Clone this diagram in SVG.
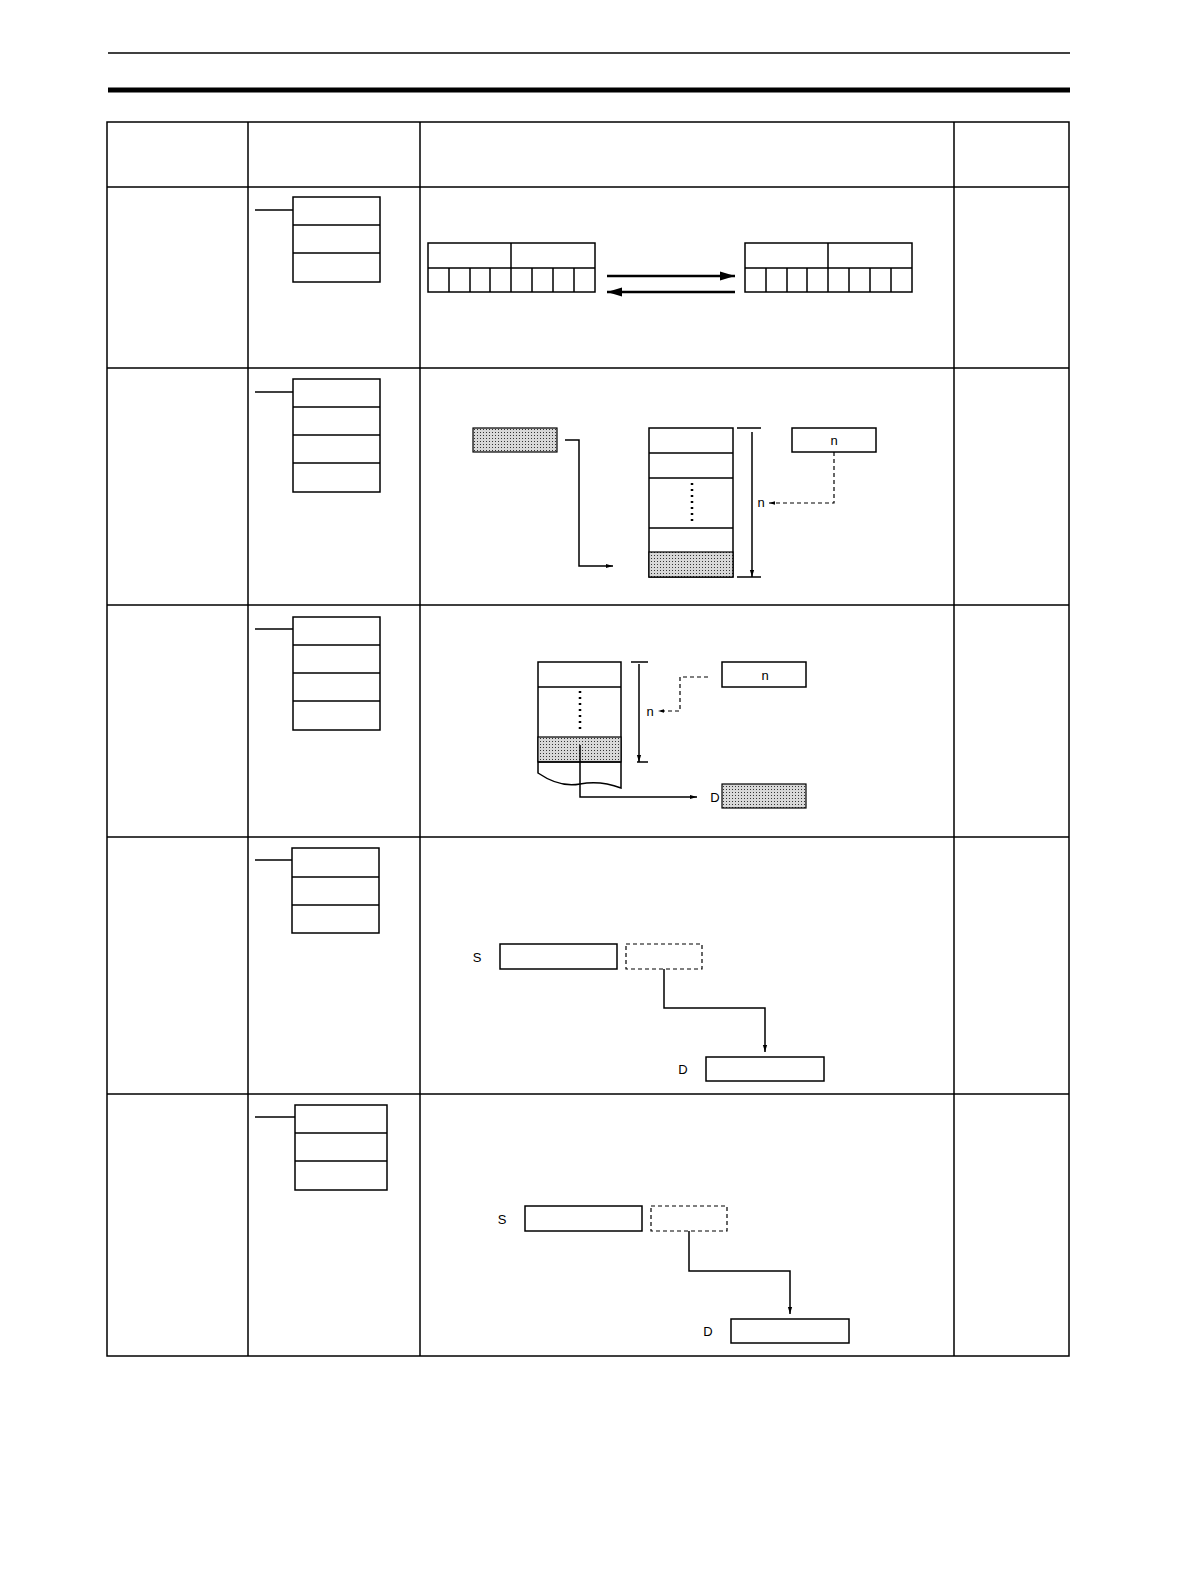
<svg xmlns="http://www.w3.org/2000/svg" width="1190" height="1584" viewBox="0 0 1190 1584">
<defs>
<pattern id="dots" width="3" height="3" patternUnits="userSpaceOnUse"><rect width="3" height="3" fill="#d8d8d8"/><rect width="1" height="1" fill="#333"/></pattern>
<marker id="ah" viewBox="0 0 10 10" refX="10" refY="5" markerWidth="6" markerHeight="6" orient="auto"><path d="M0,2 L10,5 L0,8 z" fill="#000"/></marker>
<marker id="ahb" viewBox="0 0 10 10" refX="10" refY="5" markerWidth="5" markerHeight="5" orient="auto"><path d="M0,2 L10,5 L0,8 z" fill="#000"/></marker>
</defs>
<style>
.l{stroke:#000;stroke-width:1.5;fill:none}
.b{stroke:#000;stroke-width:1.5;fill:#fff}
.s{stroke:#000;stroke-width:1.2;fill:url(#dots)}
.d{stroke:#000;stroke-width:1.2;fill:none;stroke-dasharray:4,3}
.t{font-family:"Liberation Sans",Arial,sans-serif;font-size:13px;fill:#000}
</style>
<rect width="1190" height="1584" fill="#fff"/>
<line x1="108" y1="53" x2="1070" y2="53" stroke="#000" stroke-width="1.5"/>
<line x1="108" y1="90" x2="1070" y2="90" stroke="#000" stroke-width="5"/>
<g id="table">
<rect x="107" y="122" width="962" height="1234" class="l" stroke-width="2"/>
<path class="l" d="M248,122V1356M420,122V1356M954,122V1356M107,187H1069M107,368H1069M107,605H1069M107,837H1069M107,1094H1069"/>
</g>
<g id="ladder1"><path class="l" d="M255,210H293"/><rect x="293" y="197" width="87" height="85" class="b"/><path class="l" d="M293,225H380M293,253H380"/></g>
<g id="ladder2"><path class="l" d="M255,392H293"/><rect x="293" y="379" width="87" height="113" class="b"/><path class="l" d="M293,407H380M293,435H380M293,463H380"/></g>
<g id="ladder3"><path class="l" d="M255,629H293"/><rect x="293" y="617" width="87" height="113" class="b"/><path class="l" d="M293,645H380M293,673H380M293,701H380"/></g>
<g id="ladder4"><path class="l" d="M255,860H292"/><rect x="292" y="848" width="87" height="85" class="b"/><path class="l" d="M292,877H379M292,905H379"/></g>
<g id="ladder5"><path class="l" d="M255,1117H295"/><rect x="295" y="1105" width="92" height="85" class="b"/><path class="l" d="M295,1133H387M295,1161H387"/></g>
<g id="row1">
<rect x="428" y="243" width="167" height="49" class="b"/>
<path class="l" d="M428,268H595M511,243V292M449,268V292M470,268V292M490,268V292M532,268V292M553,268V292M574,268V292"/>
<rect x="745" y="243" width="167" height="49" class="b"/>
<path class="l" d="M745,268H912M828,243V292M766,268V292M787,268V292M807,268V292M849,268V292M870,268V292M891,268V292"/>
</g>
<g id="row2">
<rect x="473" y="428" width="84" height="24" class="s"/>
<rect x="649" y="428" width="84" height="149" class="b"/>
<rect x="649" y="552" width="84" height="25" class="s"/>
<path class="l" d="M649,453H733M649,478H733M649,528H733"/>
<line x1="692" y1="483" x2="692" y2="522" stroke="#000" stroke-width="2.5" stroke-dasharray="2,4"/>
<path class="l" d="M737,428H761M737,577H761"/>
<rect x="792" y="428" width="84" height="24" class="b"/>
<text x="834" y="445" class="t" text-anchor="middle">n</text>
<text x="761" y="507" class="t" text-anchor="middle">n</text>
</g>
<g id="row3">
<path class="b" d="M538,662H621V788Q600,780 580,784T538,773Z"/>
<rect x="538" y="737" width="83" height="25" class="s"/>
<path class="l" d="M538,687H621M538,762H621"/>
<line x1="580" y1="691" x2="580" y2="733" stroke="#000" stroke-width="2.5" stroke-dasharray="2,4"/>
<path class="l" d="M631,662H648M637,762H648"/>
<rect x="722" y="662" width="84" height="25" class="b"/>
<text x="765" y="680" class="t" text-anchor="middle">n</text>
<text x="650" y="716" class="t" text-anchor="middle">n</text>
<text x="715" y="802" class="t" text-anchor="middle">D</text>
<rect x="722" y="784" width="84" height="24" class="s"/>
</g>
<g id="row4">
<text x="477" y="962" class="t" text-anchor="middle">S</text>
<rect x="500" y="944" width="117" height="25" class="b"/>
<rect x="626" y="944" width="76" height="25" class="d"/>
<text x="683" y="1074" class="t" text-anchor="middle">D</text>
<rect x="706" y="1057" width="118" height="24" class="b"/>
</g>
<g id="row5">
<text x="502" y="1224" class="t" text-anchor="middle">S</text>
<rect x="525" y="1206" width="117" height="25" class="b"/>
<rect x="651" y="1206" width="76" height="25" class="d"/>
<text x="708" y="1336" class="t" text-anchor="middle">D</text>
<rect x="731" y="1319" width="118" height="24" class="b"/>
</g>
<g id="connectors">
<line x1="607" y1="276" x2="735" y2="276" stroke="#000" stroke-width="2.5" marker-end="url(#ah)"/>
<line x1="735" y1="292" x2="607" y2="292" stroke="#000" stroke-width="2.5" marker-end="url(#ah)"/>
<path class="l" d="M565,440H579V566H613" stroke-width="1.2" marker-end="url(#ahb)"/>
<path class="l" d="M752,432V577" stroke-width="1.2" marker-end="url(#ahb)"/>
<path class="d" d="M834,452V503H769" marker-end="url(#ahb)"/>
<path class="l" d="M639,664V762" stroke-width="1.2" marker-end="url(#ahb)"/>
<path class="d" d="M708,677H680V711H658" marker-end="url(#ahb)"/>
<path class="l" d="M580,745V797H697" stroke-width="1.2" marker-end="url(#ahb)"/>
<path class="l" d="M664,969V1008H765V1052" stroke-width="1.2" marker-end="url(#ahb)"/>
<path class="l" d="M689,1231V1271H790V1314" stroke-width="1.2" marker-end="url(#ahb)"/>
</g>
</svg>
